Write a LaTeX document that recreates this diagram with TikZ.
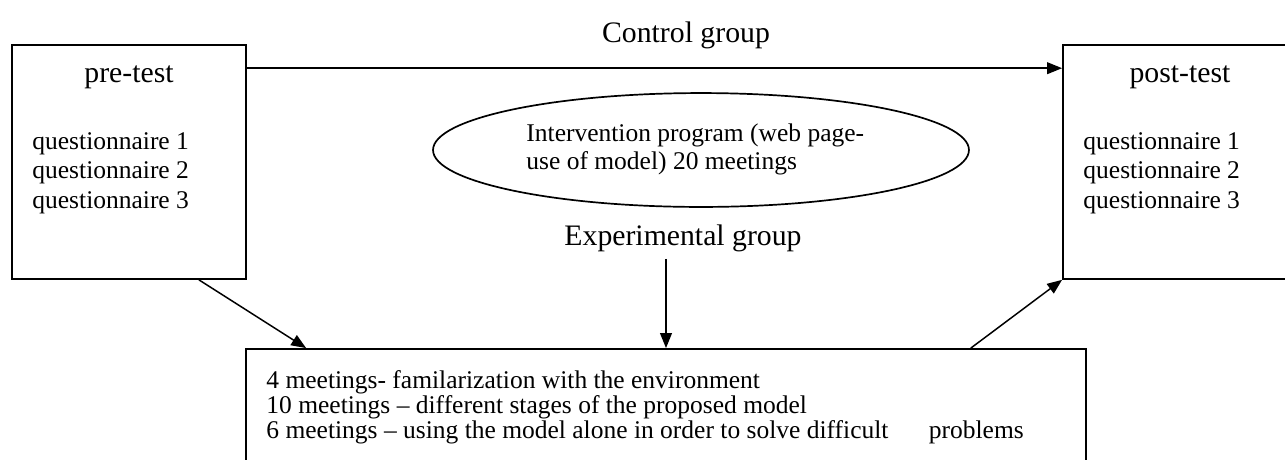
\documentclass[tikz,border=0pt]{standalone}
\usepackage{fontspec}
\setmainfont{Liberation Serif}
\usetikzlibrary{shapes.geometric,arrows.meta}

\begin{document}
\begin{tikzpicture}[x=0.4706pt,y=-0.4706pt,
  box/.style={draw,line width=0.8pt,inner sep=0pt},
  arr/.style={line width=0.7pt,-{Triangle[length=7pt,width=5.5pt]}},
  big/.style={font=\fontsize{14}{16}\selectfont,inner sep=0pt},
  small/.style={font=\fontsize{12}{13.9}\selectfont,align=left,inner sep=0pt,anchor=west}]
\clip (0,0) rectangle (1285,459);
\node[box,minimum width=110.1pt,minimum height=110.1pt] (pre) at (129,162) {};
\node[box,minimum width=113pt,minimum height=110.1pt] (post) at (1183,162) {};
\node[box,minimum width=395.3pt,minimum height=57pt] (bot) at (666,409.5) {};
\node[box,ellipse,minimum width=252.2pt,minimum height=53.6pt] (prog) at (701,150) {};
\node[big] (ctrl) at (686,35) {Control group};
\node[big] (pretitle) at (129,77) {pre-test};
\node[big] (posttitle) at (1180,77) {post-test};
\node[small] (prelist) at (32,173) {questionnaire 1\\questionnaire 2\\questionnaire 3};
\node[small] (postlist) at (1083,173) {questionnaire 1\\questionnaire 2\\questionnaire 3};
\node[small,font=\fontsize{12}{13.2}\selectfont] (progtext) at (526,149) {Intervention program (web page-\\use of model) 20 meetings};
\node[big,inner sep=3.3pt] (exp) at (683,238) {Experimental group};
\node[small,font=\fontsize{12}{11.8}\selectfont] (meet) at (266,407) {4 meetings- familarization with the environment\\10 meetings – different stages of the proposed model\\6 meetings – using the model alone in order to solve difficult\hspace{16pt} problems};
\draw[arr] ([yshift=-11.3pt]pre.north east) -- ([yshift=-11.3pt]post.north west);
\draw[arr] ([xshift=32.9pt]pre.south) -- ([xshift=28.7pt]bot.north west);
\draw[arr] (exp.south -| bot.north) -- (bot.north);
\draw[arr] ([xshift=-54.6pt]bot.north east) -- (post.south west);
\end{tikzpicture}
\end{document}
